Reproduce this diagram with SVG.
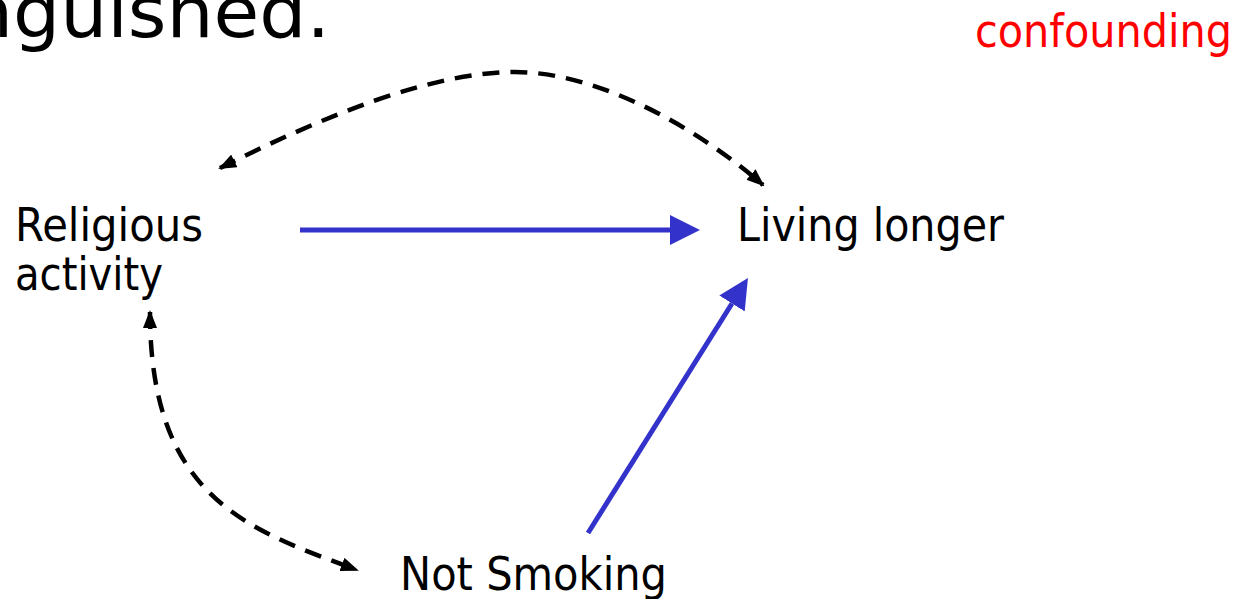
<svg xmlns="http://www.w3.org/2000/svg" width="1240" height="599" viewBox="0 0 1240 599">
  <style>
    .lbl { font-family: "DejaVu Sans", "Liberation Sans", sans-serif; font-size: 46px; fill: #000; }
    .title { font-family: "DejaVu Sans", "Liberation Sans", sans-serif; font-size: 72px; fill: #000; }
    .red { fill: #FF0000; }
    .blue { stroke: #3333CC; stroke-width: 5; fill: none; }
    .dash { stroke: #000; stroke-width: 4.5; fill: none; stroke-dasharray: 17 11; }
  </style>
  <defs>
    <marker id="blueHead" markerUnits="userSpaceOnUse" viewBox="0 0 30 30" markerWidth="30" markerHeight="30" refX="0" refY="15" orient="auto">
      <path d="M0,0 L30,15 L0,30 z" fill="#3333CC"/>
    </marker>
    <marker id="blackHead" markerUnits="userSpaceOnUse" viewBox="0 0 18 14" markerWidth="18" markerHeight="14" refX="16" refY="7" orient="auto-start-reverse">
      <path d="M0,0 L18,7 L0,14 z" fill="#000"/>
    </marker>
  </defs>

  <text class="title" x="-34" y="37" textLength="364" lengthAdjust="spacingAndGlyphs">nguished.</text>
  <text class="lbl red" x="975" y="47" textLength="257" lengthAdjust="spacingAndGlyphs">confounding</text>

  <g id="node-religious">
    <text class="lbl" x="15" y="241" textLength="188" lengthAdjust="spacingAndGlyphs">Religious</text>
    <text class="lbl" x="15" y="290" textLength="148" lengthAdjust="spacingAndGlyphs">activity</text>
  </g>
  <g id="node-living">
    <text class="lbl" x="737" y="241" textLength="267" lengthAdjust="spacingAndGlyphs">Living longer</text>
  </g>
  <g id="node-smoking">
    <text class="lbl" x="400" y="590" textLength="267" lengthAdjust="spacingAndGlyphs">Not Smoking</text>
  </g>

  <g id="connectors">
    <line class="blue" x1="300" y1="230" x2="670" y2="230" marker-end="url(#blueHead)"/>
    <line class="blue" x1="588" y1="533" x2="732" y2="303.5" marker-end="url(#blueHead)"/>
    <path class="dash" d="M220,168 C320,118 430,72 515,72 C600,72 700,130 763,185" marker-start="url(#blackHead)" marker-end="url(#blackHead)"/>
    <path class="dash" d="M150,312 C150,500 250,530 357,570" marker-start="url(#blackHead)" marker-end="url(#blackHead)"/>
  </g>
</svg>
